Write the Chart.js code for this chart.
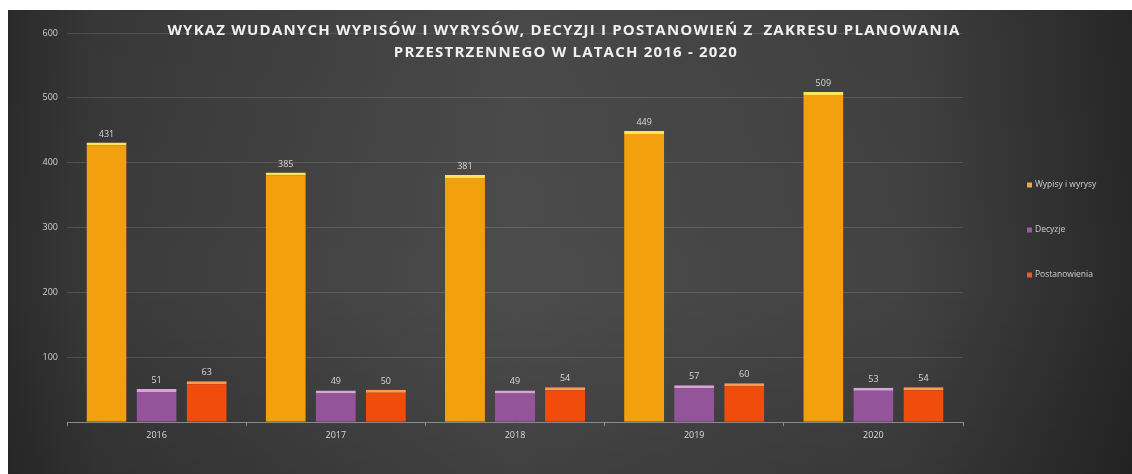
<!DOCTYPE html>
<html>
<head>
<meta charset="utf-8">
<script src="https://cdn.jsdelivr.net/npm/chart.js@4.4.1/dist/chart.umd.min.js"></script>
<style>
  html,body{margin:0;padding:0;background:#fff;width:1132px;height:474px;overflow:hidden;}
  #wrap{position:absolute;left:8px;top:10px;width:1124px;height:464px;}
</style>
</head>
<body>
<div id="wrap"><canvas id="c" width="1124" height="464"></canvas></div>
<script>
const years = ['2016', '2017', '2018', '2019', '2020'];
const wypisy = [431, 385, 381, 449, 509];
const decyzje = [51, 49, 49, 57, 53];
const postanowienia = [63, 50, 54, 60, 54];
const seriesNames = ['Wypisy i wyrysy', 'Decyzje', 'Postanowienia'];
const titleLines = ['WYKAZ WUDANYCH WYPISÓW I WYRYSÓW, DECYZJI I POSTANOWIEŃ Z  ZAKRESU PLANOWANIA', 'PRZESTRZENNEGO W LATACH 2016 - 2020'];

const palette = [
  {body: '#F2A00E', top: '#FFE45A', legend: '#E8B020'},
  {body: '#94549A', top: '#D9A3D6', legend: '#9A5AA0'},
  {body: '#F04C0C', top: '#FF9A55', legend: '#F05A1A'}
];

const bgPlugin = {
  id: 'bg',
  beforeDraw(chart) {
    const c = chart.ctx, w = chart.width, h = chart.height;
    c.save();
    const g = c.createLinearGradient(0, 0, w, 0);
    g.addColorStop(0, '#2c2c2c');
    g.addColorStop(0.08, '#3a3a3a');
    g.addColorStop(0.45, '#4c4c4c');
    g.addColorStop(0.8, '#424242');
    g.addColorStop(1, '#282828');
    c.fillStyle = g;
    c.fillRect(0, 0, w, h);
    const v = c.createLinearGradient(0, 0, 0, h);
    v.addColorStop(0, 'rgba(0,0,0,0.05)');
    v.addColorStop(0.6, 'rgba(0,0,0,0)');
    v.addColorStop(1, 'rgba(0,0,0,0.15)');
    c.fillStyle = v;
    c.fillRect(0, 0, w, h);
    c.restore();
  }
};

const titlePlugin = {
  id: 'ttl',
  afterDraw(chart) {
    const c = chart.ctx;
    c.save();
    c.font = 'bold 15px "Open Sans"';
    c.fillStyle = '#f0f0f0';
    c.textAlign = 'center';
    c.textBaseline = 'middle';
    if ('letterSpacing' in c) c.letterSpacing = '1.2px';
    c.fillText(titleLines[0], chart.width / 2 - 6, 21);
    c.fillText(titleLines[1], chart.width / 2 - 4, 43);
    c.restore();
  }
};

const labelPlugin = {
  id: 'vals',
  afterDatasetsDraw(chart) {
    const c = chart.ctx;
    c.save();
    c.font = '9px "Open Sans"';
    c.fillStyle = '#d8d8d8';
    c.textAlign = 'center';
    c.textBaseline = 'bottom';
    chart.data.datasets.forEach((ds, i) => {
      chart.getDatasetMeta(i).data.forEach((el, j) => {
        c.fillText(String(ds.data[j]), el.x, el.y - 4);
      });
    });
    c.restore();
  }
};

const legendPlugin = {
  id: 'lgd',
  afterDraw(chart) {
    const c = chart.ctx;
    c.save();
    c.font = '8.5px "Open Sans"';
    c.textBaseline = 'middle';
    chart.data.datasets.forEach((ds, i) => {
      const y = 175 + i * 45;
      const x = 1019;
      c.fillStyle = palette[i].legend;
      c.fillRect(x, y - 2.5, 5, 5);
      c.fillStyle = '#cfcfcf';
      c.fillText(ds.label, x + 8, y);
    });
    c.restore();
  }
};

new Chart(document.getElementById('c'), {
  type: 'bar',
  data: {
    labels: years,
    datasets: [wypisy, decyzje, postanowienia].map((d, i) => ({
      label: seriesNames[i],
      data: d,
      backgroundColor: palette[i].body,
      borderColor: palette[i].top,
      borderWidth: {top: 3, left: 0, right: 0, bottom: 0},
      borderSkipped: 'bottom',
      categoryPercentage: 0.838,
      barPercentage: 0.8
    }))
  },
  options: {
    responsive: false,
    animation: false,
    layout: {padding: {left: 0, right: 169, top: 23, bottom: 29}},
    plugins: {
      legend: {display: false},
      title: {display: false},
      tooltip: {enabled: false}
    },
    scales: {
      x: {
        offset: true,
        grid: {display: true, drawOnChartArea: false, offset: true, tickLength: 4, color: '#8a8a8a'},
        border: {color: '#8a8a8a', width: 1},
        ticks: {color: '#dcdcdc', font: {family: '"Open Sans"', size: 9}, padding: 4}
      },
      y: {
        min: 0, max: 600,
        afterFit(s) { s.width = 59; },
        grid: {color: 'rgba(255,255,255,0.13)', drawTicks: false},
        border: {display: false},
        ticks: {
          stepSize: 100,
          color: '#d0d0d0',
          font: {family: '"Open Sans"', size: 9},
          padding: 9,
          callback: v => v === 0 ? '' : v
        }
      }
    }
  },
  plugins: [bgPlugin, labelPlugin, titlePlugin, legendPlugin]
});
</script>
</body>
</html>
